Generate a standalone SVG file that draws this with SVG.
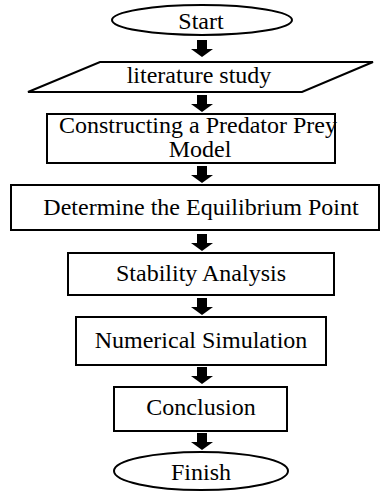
<svg xmlns="http://www.w3.org/2000/svg" width="380" height="492" viewBox="0 0 380 492">
<style>
.s{fill:#fff;stroke:#000;stroke-width:2}
.t{font-family:"Liberation Serif","Times New Roman",serif;font-size:24px;fill:#000;text-anchor:middle}
.a{fill:#000}
</style>
<defs>
<path id="arr" d="M-5,0 H5 V9 H11 L0,17 L-11,9 H-5 Z"/>
</defs>
<rect width="380" height="492" fill="#fff"/>
<g id="connectors" class="a">
<use href="#arr" x="202" y="40"/>
<use href="#arr" x="202" y="95"/>
<use href="#arr" x="202" y="166"/>
<use href="#arr" x="202" y="234"/>
<use href="#arr" x="202" y="298"/>
<use href="#arr" x="202" y="367"/>
<use href="#arr" x="202" y="433"/>
</g>
<g id="start">
<ellipse class="s" cx="202" cy="20" rx="90" ry="15"/>
<text class="t" x="201" y="29">Start</text>
</g>
<g id="literature">
<polygon class="s" points="100,62 373,62 302,92 28,92"/>
<text class="t" x="199" y="83">literature study</text>
</g>
<g id="construct">
<rect class="s" x="47" y="114" width="288" height="49"/>
<text class="t" x="198" y="133">Constructing a Predator Prey</text>
<text class="t" x="200" y="157">Model</text>
</g>
<g id="equilibrium">
<rect class="s" x="11" y="185" width="368" height="45"/>
<text class="t" x="201" y="215">Determine the Equilibrium Point</text>
</g>
<g id="stability">
<rect class="s" x="68" y="253" width="266" height="42"/>
<text class="t" x="201" y="281">Stability Analysis</text>
</g>
<g id="numerical">
<rect class="s" x="76" y="317" width="250" height="48"/>
<text class="t" x="201" y="348">Numerical Simulation</text>
</g>
<g id="conclusion">
<rect class="s" x="114" y="387" width="173" height="44"/>
<text class="t" x="201" y="415">Conclusion</text>
</g>
<g id="finish">
<ellipse class="s" cx="201" cy="471" rx="87" ry="19"/>
<text class="t" x="201" y="480">Finish</text>
</g>
</svg>
